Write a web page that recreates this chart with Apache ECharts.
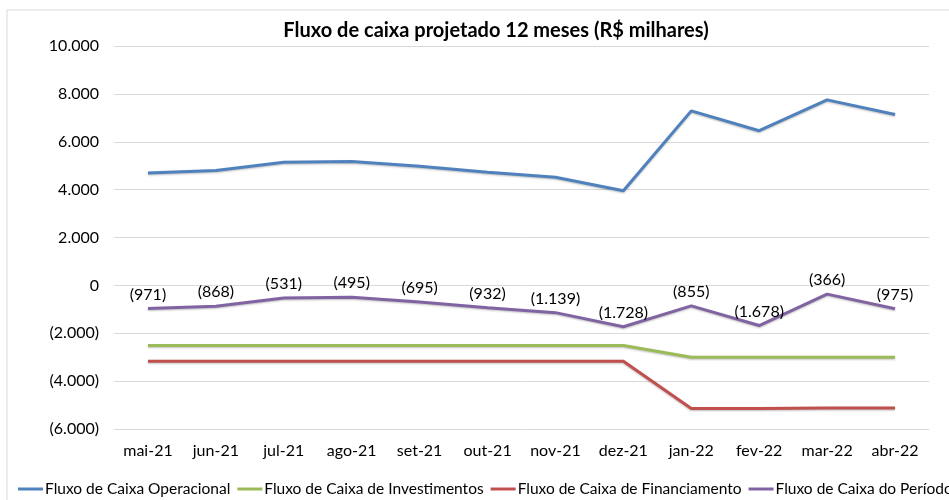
<!DOCTYPE html>
<html>
<head>
<meta charset="utf-8">
<script src="https://cdn.jsdelivr.net/npm/echarts@6/dist/echarts.min.js"></script>
<style>
html, body { margin: 0; padding: 0; background: #fff; }
#chart { width: 949px; height: 500px; }
</style>
</head>
<body>
<div id="chart"></div>
<script>
var meses = ['mai-21', 'jun-21', 'jul-21', 'ago-21', 'set-21', 'out-21', 'nov-21', 'dez-21', 'jan-22', 'fev-22', 'mar-22', 'abr-22'];
var operacional = [4690, 4800, 5140, 5180, 4980, 4730, 4520, 3950, 7290, 6460, 7750, 7140];
var investimentos = [-2510, -2510, -2510, -2510, -2510, -2510, -2510, -2510, -3000, -3000, -3000, -3000];
var financiamento = [-3170, -3170, -3170, -3170, -3170, -3170, -3170, -3170, -5140, -5140, -5120, -5120];
var periodo = [-971, -868, -531, -495, -695, -932, -1139, -1728, -855, -1678, -366, -975];
var nomes = ['Fluxo de Caixa Operacional', 'Fluxo de Caixa de Investimentos', 'Fluxo de Caixa de Financiamento', 'Fluxo de Caixa do Período'];

function milhar(v) {
    var s = String(Math.abs(Math.round(v))).replace(/\B(?=(\d{3})+(?!\d))/g, '.');
    return v < 0 ? '(' + s + ')' : s;
}

var fonte = 'Lato, "Noto Sans", sans-serif';

function serie(nome, dados, cor) {
    return {
        name: nome,
        type: 'line',
        data: dados,
        symbol: 'none',
        lineStyle: {
            width: 3,
            color: cor,
            shadowColor: 'rgba(0,0,0,0.25)',
            shadowBlur: 2,
            shadowOffsetY: 1
        },
        itemStyle: { color: cor }
    };
}

var chart = echarts.init(document.getElementById('chart'));
var sPeriodo = serie(nomes[3], periodo, '#8064A2');
// rotulos precisam de simbolo, entao simbolo de tamanho 0
sPeriodo.symbol = 'circle';
sPeriodo.symbolSize = 0;
sPeriodo.label = {
    show: true,
    position: 'top',
    distance: 6,
    color: '#000',
    fontSize: 16,
    fontFamily: fonte,
    formatter: function (p) { return milhar(p.value); }
};

var option = {
    animation: false,
    graphic: [{
        type: 'rect',
        shape: { x: 7, y: 10, width: 1000, height: 520 },
        style: { fill: 'none', stroke: '#d9d9d9', lineWidth: 1 }
    }],
    title: {
        text: 'Fluxo de caixa projetado 12 meses (R$ milhares)',
        left: 491,
        top: 16,
        textAlign: 'center',
        textStyle: { fontSize: 20, fontWeight: 'bold', color: '#000', fontFamily: fonte }
    },
    legend: {
        data: nomes,
        left: 18,
        top: 481,
        padding: 0,
        width: 1300,
        itemGap: 7,
        itemWidth: 25,
        itemHeight: 3,
        icon: 'rect',
        textStyle: { fontSize: 15.5, color: '#000', fontFamily: fonte, padding: [0, 0, 0, -3] }
    },
    grid: { left: 114, right: 20, top: 46, bottom: 71 },
    xAxis: {
        type: 'category',
        data: meses,
        axisLine: { show: false, onZero: false },
        axisTick: { show: false },
        axisLabel: { color: '#000', fontSize: 16, fontFamily: fonte, margin: 14 }
    },
    yAxis: {
        type: 'value',
        min: -6000,
        max: 10000,
        interval: 2000,
        axisLine: { show: false },
        axisTick: { show: false },
        splitLine: { lineStyle: { color: '#d9d9d9', width: 1 } },
        axisLabel: {
            color: '#000',
            fontSize: 16,
            fontFamily: fonte,
            margin: 15,
            formatter: milhar
        }
    },
    series: [
        serie(nomes[0], operacional, '#4F81BD'),
        serie(nomes[1], investimentos, '#9BBB59'),
        serie(nomes[2], financiamento, '#C0504D'),
        sPeriodo
    ]
};
chart.setOption(option);
</script>
</body>
</html>
